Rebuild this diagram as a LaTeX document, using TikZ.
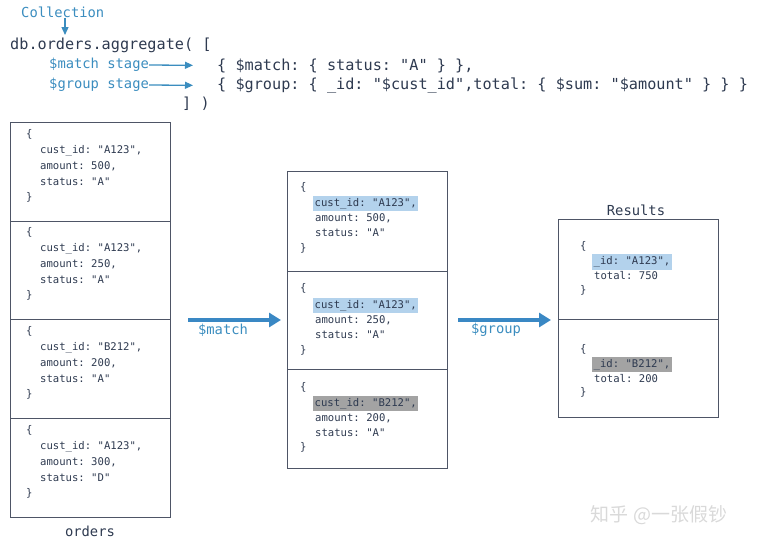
\documentclass[tikz,border=0pt]{standalone}
\usepackage{fontspec}
\setmonofont{DejaVu Sans Mono}
\newfontfamily\cjk{Noto Sans CJK SC}
\usetikzlibrary{arrows.meta}
\definecolor{ink}{HTML}{2E3A50}
\definecolor{lbl}{HTML}{3B8DBF}
\definecolor{arr}{HTML}{3A88C4}
\definecolor{frame}{HTML}{4E5566}
\definecolor{hlb}{HTML}{B3D2EC}
\definecolor{hlg}{HTML}{A3A3A3}
\definecolor{wm}{HTML}{D9D9D9}
\begin{document}
\begin{tikzpicture}[x=1pt,y=-1pt,
  cell/.style={draw=frame, line width=1.1pt, minimum width=160pt, inner sep=0pt, anchor=north west},
  code/.style={font=\ttfamily\fontsize{10.6}{12}\selectfont, text=ink, anchor=west,
    text height=8pt, text depth=2.5pt, inner xsep=1.5pt, inner ysep=2.4pt},
  big/.style={font=\ttfamily\fontsize{15.2}{18}\selectfont, text=ink, anchor=west, inner sep=0pt},
  lab/.style={font=\ttfamily\fontsize{13.8}{16}\selectfont, text=lbl, anchor=west, inner sep=0pt},
  title/.style={font=\ttfamily\fontsize{13.8}{16}\selectfont, text=ink, inner sep=0pt},
  bigarrow/.style={draw=arr, line width=4pt, -{Triangle[length=12pt,width=14pt]}},
  smallarrow/.style={draw=lbl, line width=1.3pt, -{Triangle[length=8pt,width=7pt]}},
  hb/.style={fill=hlb}, hg/.style={fill=hlg}]
\useasboundingbox (0,0) rectangle (760,547);

% ---- top code ----
\node[lab] (coll) at (21,12) {Collection};
\node[big] (db) at (10,45.5) {db.orders.aggregate( [};
\node[lab] (mst) at (49,65) {\$match stage};
\node[lab] (gst) at (49,85) {\$group stage};
\node[big] (mcode) at (217,65.5) {\{ \$match: \{ status: "A" \} \},};
\node[big] (gcode) at (217,85.5) {\{ \$group: \{ \_id: "\$cust\_id",total: \{ \$sum: "\$amount" \} \} \}};
\node[big] (close) at (182,103.5) {] )};
\coordinate (collend) at (65,35);
\draw[smallarrow] (coll.south -| collend) -- (collend);
\draw[smallarrow, shorten >=24pt] (mst.east) -- (mcode.west);
\draw[smallarrow, shorten >=24pt] (gst.east) -- (gcode.west);

% ---- orders collection ----
\node[cell, minimum height=99pt] (o1) at (10,122) {};
\node[cell, minimum height=98pt] (o2) at (10,221) {};
\node[cell, minimum height=99pt] (o3) at (10,319) {};
\node[cell, minimum height=99pt] (o4) at (10,418) {};
\node[title] (orders) at (90,531) {orders};

\node[code] (o1a) at (24.5,135) {\{};
\node[code] (o1b) at (38.5,151) {cust\_id: "A123",};
\node[code] (o1c) at (38.5,167) {amount: 500,};
\node[code] (o1d) at (38.5,183) {status: "A"};
\node[code] (o1e) at (24.5,198) {\}};

\node[code] (o2a) at (24.5,233) {\{};
\node[code] (o2b) at (38.5,249) {cust\_id: "A123",};
\node[code] (o2c) at (38.5,265) {amount: 250,};
\node[code] (o2d) at (38.5,281) {status: "A"};
\node[code] (o2e) at (24.5,296) {\}};

\node[code] (o3a) at (24.5,332) {\{};
\node[code] (o3b) at (38.5,348) {cust\_id: "B212",};
\node[code] (o3c) at (38.5,364) {amount: 200,};
\node[code] (o3d) at (38.5,380) {status: "A"};
\node[code] (o3e) at (24.5,395) {\}};

\node[code] (o4a) at (24.5,431) {\{};
\node[code] (o4b) at (38.5,447) {cust\_id: "A123",};
\node[code] (o4c) at (38.5,463) {amount: 300,};
\node[code] (o4d) at (38.5,479) {status: "D"};
\node[code] (o4e) at (24.5,494) {\}};

% ---- after $match ----
\node[cell, minimum height=100pt] (m1) at (287,171) {};
\node[cell, minimum height=98pt] (m2) at (287,271) {};
\node[cell, minimum height=99pt] (m3) at (287,369) {};

\node[code] (m1a) at (298.5,188) {\{};
\node[code, hb] (m1b) at (313,203.5) {cust\_id: "A123",};
\node[code] (m1c) at (313.5,218.5) {amount: 500,};
\node[code] (m1d) at (313.5,234) {status: "A"};
\node[code] (m1e) at (298.5,249) {\}};

\node[code] (m2a) at (298.5,289) {\{};
\node[code, hb] (m2b) at (313,305.5) {cust\_id: "A123",};
\node[code] (m2c) at (313.5,320.5) {amount: 250,};
\node[code] (m2d) at (313.5,336) {status: "A"};
\node[code] (m2e) at (298.5,351) {\}};

\node[code] (m3a) at (298.5,388) {\{};
\node[code, hg] (m3b) at (313,403.5) {cust\_id: "B212",};
\node[code] (m3c) at (313.5,418.5) {amount: 200,};
\node[code] (m3d) at (313.5,434) {status: "A"};
\node[code] (m3e) at (298.5,448) {\}};

% ---- results ----
\node[cell, minimum height=100pt] (r1) at (558,219) {};
\node[cell, minimum height=98pt] (r2) at (558,319) {};
\node[title] (results) at (636,210) {Results};

\node[code] (r1a) at (578.5,247) {\{};
\node[code, hb] (r1b) at (592,262) {\_id: "A123",};
\node[code] (r1c) at (592.5,276.5) {total: 750};
\node[code] (r1d) at (578.5,291) {\}};

\node[code] (r2a) at (578.5,350) {\{};
\node[code, hg] (r2b) at (592,364.5) {\_id: "B212",};
\node[code] (r2c) at (592.5,379.5) {total: 200};
\node[code] (r2d) at (578.5,393) {\}};

% ---- stage arrows ----
\coordinate (ordE) at (170,320);
\coordinate (midW) at (287,320);
\coordinate (midE) at (447,320);
\coordinate (resW) at (558,320);
\draw[bigarrow, shorten <=18pt, shorten >=6pt] (ordE) -- (midW);
\draw[bigarrow, shorten <=11pt, shorten >=7pt] (midE) -- (resW);
\node[lab, anchor=center] (matchlbl) at (223,330) {\$match};
\node[lab, anchor=center] (grouplbl) at (496,330) {\$group};

% ---- watermark ----
\node[font=\cjk\fontsize{19}{22}\selectfont, text=wm, anchor=center, inner sep=0pt] (wmk) at (659,515) {知乎 @一张假钞};
\end{tikzpicture}
\end{document}
